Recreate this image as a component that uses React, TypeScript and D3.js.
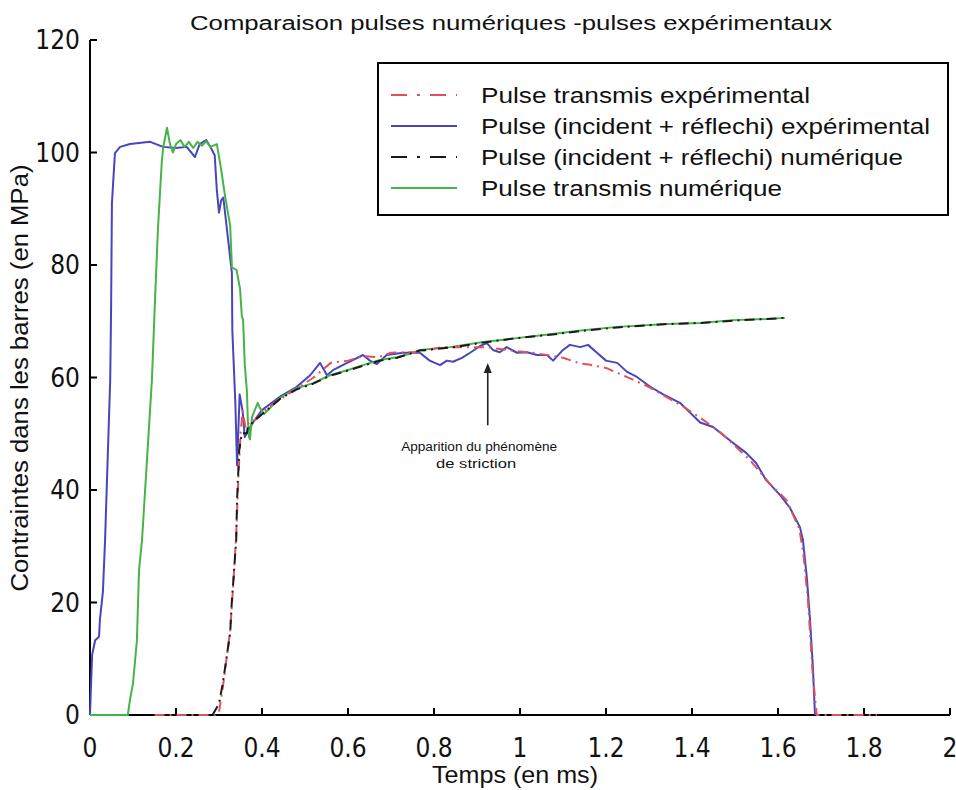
import React from 'react';
import * as d3 from 'd3';

// time (ms), stress (MPa)
const transmisExp: [number, number][] = [
  [0.15, 0], [0.29, 0], [0.3, 0.5], [0.309, 5], [0.326, 15], [0.333, 23], [0.34, 32],
  [0.345, 42], [0.35, 50], [0.355, 54], [0.362, 51], [0.37, 52], [0.385, 52.5],
  [0.42, 55], [0.47, 57.5], [0.52, 60], [0.56, 62.6], [0.6, 63], [0.635, 63.8],
  [0.67, 63.6], [0.7, 64.4], [0.756, 64.5], [0.82, 65.4], [0.92, 65.4], [0.98, 64.8],
  [1.03, 64.4], [1.1, 63.5], [1.14, 62.5], [1.16, 62.3], [1.2, 61.7], [1.26, 59.7],
  [1.3, 58.3], [1.38, 54.8], [1.42, 52.8], [1.47, 50], [1.535, 45.3], [1.58, 41.2],
  [1.62, 38.2], [1.65, 33], [1.66, 28], [1.67, 20], [1.68, 8], [1.69, 0], [1.83, 0],
];

const incReflExp: [number, number][] = [
  [0, 0], [0.002, 4.4], [0.005, 10.7], [0.012, 13.3], [0.021, 13.9], [0.023, 16.9],
  [0.03, 21.9], [0.035, 31], [0.047, 59.6], [0.049, 72], [0.051, 91], [0.058, 99.9],
  [0.07, 101], [0.093, 101.5], [0.14, 101.9], [0.17, 101], [0.2, 100.8], [0.225, 101],
  [0.244, 99.2], [0.255, 101.5], [0.27, 102.2], [0.28, 101], [0.29, 99.5], [0.295, 93.3],
  [0.3, 89.3], [0.305, 91.5], [0.31, 92], [0.33, 78.6], [0.331, 68.4], [0.338, 55.5],
  [0.342, 44.4], [0.348, 57], [0.355, 54], [0.36, 49.4], [0.378, 51.9], [0.4, 54.2],
  [0.44, 56.5], [0.48, 58.3], [0.512, 60.4], [0.535, 62.6], [0.551, 60.4], [0.565, 61.3],
  [0.598, 62.6], [0.635, 64], [0.651, 63], [0.667, 62.4], [0.69, 64], [0.728, 64.4],
  [0.767, 64.4], [0.79, 63], [0.814, 62.2], [0.83, 63], [0.844, 62.8], [0.865, 63.5],
  [0.884, 64.4], [0.907, 65.6], [0.923, 66.1], [0.937, 64.9], [0.953, 64.5], [0.969, 65.4],
  [0.993, 64.4], [1.016, 64.5], [1.04, 64], [1.063, 64], [1.077, 63], [1.1, 64.9],
  [1.116, 65.8], [1.14, 65.4], [1.158, 65.8], [1.179, 64.4], [1.2, 63], [1.226, 62.6],
  [1.249, 61], [1.272, 60.1], [1.302, 58.4], [1.333, 57], [1.372, 55.5], [1.419, 52],
  [1.449, 51.2], [1.495, 48.4], [1.526, 46.6], [1.549, 44.8], [1.572, 41.8], [1.605, 39.1],
  [1.628, 36.8], [1.651, 33.4], [1.658, 31.1], [1.667, 24.5], [1.674, 17.4], [1.681, 8.7],
  [1.686, 0],
];

const incReflNum: [number, number][] = [
  [0.285, 0], [0.3, 2], [0.309, 5.7], [0.326, 14.6], [0.33, 20.4], [0.333, 23.5],
  [0.34, 31.1], [0.342, 38.2], [0.347, 47], [0.353, 50.1], [0.365, 50.1], [0.367, 51.2],
  [0.384, 52.4], [0.405, 53.8], [0.442, 56.2], [0.481, 57.9], [0.519, 58.9], [0.558, 60.3],
  [0.598, 61.2], [0.635, 62.1], [0.674, 63], [0.714, 63.5], [0.767, 64.8], [0.837, 65.3],
  [0.914, 66.2], [0.993, 67], [1.07, 67.6], [1.147, 68.3], [1.226, 68.9], [1.342, 69.5],
  [1.419, 69.7], [1.495, 70.1], [1.574, 70.4], [1.616, 70.6],
];

const transmisNum: [number, number][] = [
  [0, 0], [0.088, 0], [0.093, 2.7], [0.1, 5.6], [0.109, 13.2], [0.114, 25.8], [0.121, 31.1],
  [0.144, 59.6], [0.151, 73.4], [0.158, 86.4], [0.167, 98.4], [0.17, 100.8], [0.179, 104.4],
  [0.186, 101.5], [0.193, 100], [0.2, 101.5], [0.21, 102.2], [0.22, 101], [0.23, 101.9],
  [0.24, 100.8], [0.25, 101.9], [0.26, 101.2], [0.27, 102], [0.28, 101], [0.295, 101.5],
  [0.305, 97], [0.314, 92.3], [0.326, 87], [0.33, 79.6], [0.341, 79.1], [0.349, 75.7],
  [0.353, 71], [0.356, 70.2], [0.36, 62.2], [0.365, 57.5], [0.367, 52.4], [0.37, 49.4],
  [0.372, 49], [0.377, 53], [0.39, 55.5], [0.395, 54.6], [0.405, 53.5], [0.442, 56.4],
  [0.481, 58.1], [0.519, 59], [0.558, 60.4], [0.598, 61.3], [0.635, 62.2], [0.674, 63.1],
  [0.714, 63.6], [0.744, 64.2], [0.767, 64.9], [0.837, 65.4], [0.914, 66.3], [0.993, 67],
  [1.07, 67.7], [1.147, 68.4], [1.226, 69], [1.342, 69.5], [1.419, 69.7], [1.495, 70.2],
  [1.574, 70.4], [1.616, 70.6],
];

const xTicks = [0, 0.2, 0.4, 0.6, 0.8, 1, 1.2, 1.4, 1.6, 1.8, 2];
const yTicks = [0, 20, 40, 60, 80, 100, 120];

const legendLabels = [
  'Pulse transmis expérimental',
  'Pulse (incident + réflechi) expérimental',
  'Pulse (incident + réflechi) numérique',
  'Pulse transmis numérique',
];

const title = 'Comparaison pulses numériques -pulses expérimentaux';
const xTitle = 'Temps (en ms)';
const yTitle = 'Contraintes dans les barres (en MPa)';
const note = ['Apparition du phénomène', 'de striction'];

const W = 956;
const H = 790;
const font = 'Arial, "Liberation Sans", sans-serif';
const narrow = '"Liberation Sans Narrow", "Arial Narrow", "DejaVu Sans Condensed", Arial, sans-serif';

const series = [
  { data: incReflExp, color: '#4646be', dash: null },
  { data: transmisNum, color: '#46b446', dash: null },
  { data: transmisExp, color: '#e2505e', dash: '10,5,2,5' },
  { data: incReflNum, color: '#1a1a1a', dash: '10,5,2,5' },
];
// legend order follows the reference
const legendStyle = [series[2], series[0], series[3], series[1]];
const legendWidths = [329, 449, 422, 301];

export default function App() {
  const x = d3.scaleLinear().domain([0, 2]).range([90, 950]);
  const y = d3.scaleLinear().domain([0, 120]).range([715, 40]);
  const line = d3
    .line<[number, number]>()
    .x((d) => x(d[0]))
    .y((d) => y(d[1]));

  return (
    <svg
      width={W}
      height={H}
      style={{ position: 'absolute', left: 0, top: 0, background: '#fff' }}
    >
      <rect width={W} height={H} fill="#fff" />

      {/* axes */}
      <g stroke="#000" strokeWidth={2}>
        <line x1={x(0)} x2={x(0)} y1={y(120)} y2={y(0)} />
        <line x1={x(0)} x2={x(2)} y1={y(0)} y2={y(0)} />
        {xTicks.map((t) => (
          <line key={'xt' + t} x1={x(t)} x2={x(t)} y1={y(0)} y2={y(0) - 7} />
        ))}
        {yTicks.map((t) => (
          <line key={'yt' + t} x1={x(0)} x2={x(0) + 7} y1={y(t)} y2={y(t)} />
        ))}
      </g>
      <g fontFamily={narrow} fontSize={26} fill="#111">
        {xTicks.map((t) => (
          <text key={'xl' + t} x={x(t)} y={y(0) + 42} textAnchor="middle">
            {String(t)}
          </text>
        ))}
        {yTicks.map((t) => (
          <text key={'yl' + t} x={x(0) - 10} y={y(t) + 9} textAnchor="end">
            {String(t)}
          </text>
        ))}
      </g>

      {/* curves */}
      {series.map((s, i) => (
        <path
          key={i}
          d={line(s.data) || ''}
          fill="none"
          stroke={s.color}
          strokeWidth={2}
          strokeDasharray={s.dash || undefined}
          strokeLinejoin="round"
        />
      ))}

      {/* annotation */}
      <g>
        <line x1={x(0.925)} x2={x(0.925)} y1={y(51.5)} y2={y(61.5)} stroke="#222" strokeWidth={1.6} />
        <path
          d={`M${x(0.925)},${y(61.5) - 6} l-4,10 l8,0 z`}
          fill="#222"
        />
        <text x={x(0.905)} y={y(47)} textAnchor="middle" fontFamily={font} fontSize={12} textLength={156} lengthAdjust="spacingAndGlyphs" fill="#111">
          {note[0]}
        </text>
        <text x={x(0.898)} y={y(44)} textAnchor="middle" fontFamily={font} fontSize={12} textLength={80} lengthAdjust="spacingAndGlyphs" fill="#111">
          {note[1]}
        </text>
      </g>

      {/* legend */}
      <g>
        <rect x={378} y={63} width={570} height={152} fill="#fff" stroke="#000" strokeWidth={2} />
        {legendLabels.map((lab, i) => {
          const cy = 95 + i * 31;
          const s = legendStyle[i];
          return (
            <g key={lab}>
              <line
                x1={391}
                x2={457}
                y1={cy}
                y2={cy}
                stroke={s.color}
                strokeWidth={2}
                strokeDasharray={s.dash ? '16,10,3,10' : undefined}
              />
              <text
                x={481}
                y={cy + 8}
                fontFamily={font}
                fontSize={22}
                textLength={legendWidths[i]}
                lengthAdjust="spacingAndGlyphs"
                fill="#111"
              >
                {lab}
              </text>
            </g>
          );
        })}
      </g>

      {/* titles */}
      <text x={511} y={30} textAnchor="middle" fontFamily={font} fontSize={20} textLength={642} lengthAdjust="spacingAndGlyphs" fill="#111">
        {title}
      </text>
      <text x={515} y={783} textAnchor="middle" fontFamily={font} fontSize={24} textLength={166} lengthAdjust="spacingAndGlyphs" fill="#111">
        {xTitle}
      </text>
      <text
        transform="translate(28,378) rotate(-90)"
        textAnchor="middle"
        fontFamily={font}
        fontSize={23}
        textLength={427}
        lengthAdjust="spacingAndGlyphs"
        fill="#111"
      >
        {yTitle}
      </text>
    </svg>
  );
}
